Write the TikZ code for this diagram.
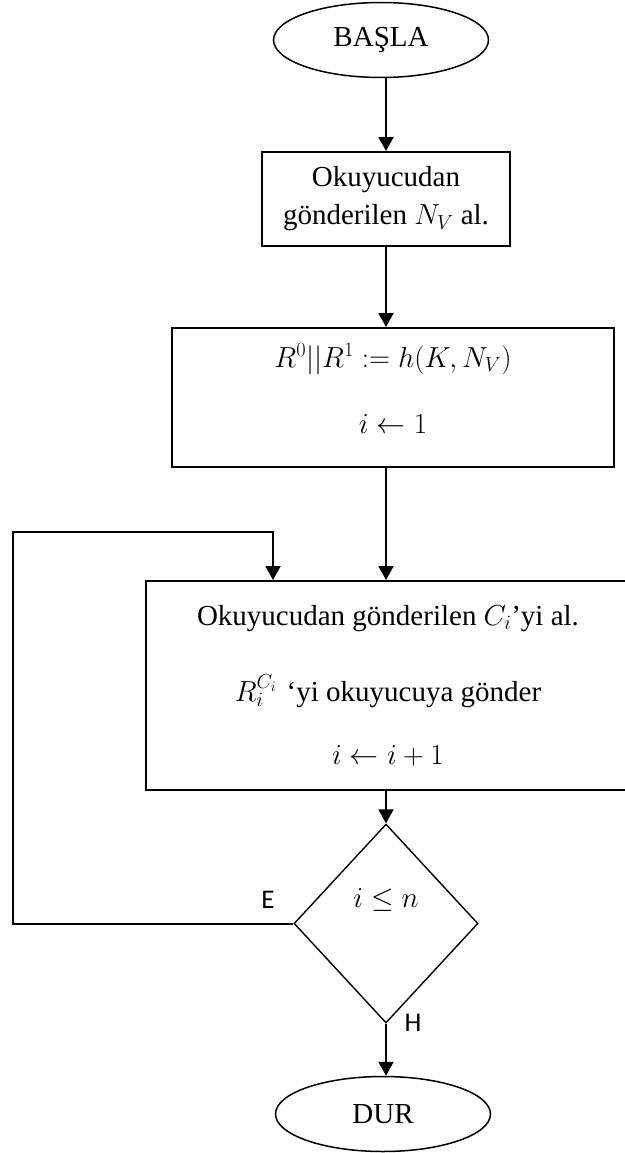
\RequirePackage{fix-cm}
\documentclass[tikz,border=0pt]{standalone}
\usepackage{fontspec}
\setmainfont{Liberation Serif}
\newfontfamily\lblfont{Carlito}
\usetikzlibrary{shapes.geometric,arrows.meta}

\begin{document}
\begin{tikzpicture}[x=1pt,y=-1pt,
  every node/.style={font=\fontsize{29}{38}\selectfont},
  terminal/.style={draw, ellipse, line width=1.5pt, minimum width=215pt, minimum height=75pt, inner sep=0pt},
  procbox/.style={draw, rectangle, line width=2pt, align=center, inner sep=0pt},
  decision/.style={draw, diamond, line width=1.4pt, minimum width=184pt, minimum height=199pt, inner sep=0pt},
  flow/.style={line width=2pt, -{Triangle[width=15pt,length=14pt]}},
  branch/.style={font=\lblfont\fontsize{27}{30}\selectfont, inner sep=0pt}]
\useasboundingbox (0,0) rectangle (624,1153);

% terminals
\node[terminal] (start) at (381,40) {BAŞLA};
\node[terminal] (stop) at (383,1114) {DUR};

% process boxes
\node[procbox, minimum width=248pt, minimum height=94pt] (box1) at (386,199)
  {Okuyucudan\\gönderilen $N_V$ al.};
\node[procbox, minimum width=442pt, minimum height=139pt] (box2) at (393,397.5)
  {$R^0||R^1 := h(K,N_V)$\\[28pt]$i \leftarrow 1$\\[-20pt]};
\node[procbox, minimum width=484pt, minimum height=209pt] (box3) at (388,685.5)
  {Okuyucudan gönderilen $C_i$’yi al.\\[38pt]$R_i^{C_i}$\hspace{10pt}‘yi okuyucuya gönder\\[25pt]$i \leftarrow i+1$};

% decision
\node[decision] (dec) at (386,923.5) {};
\node (cond) at (386,900) {$i \leq n$};
\node[branch] (yes) at (268,900) {E};
\node[branch] (no) at (413,1023) {H};

% loop corners
\coordinate (loopcorner) at (13,532);
\coordinate (loopdrop) at (273,532);

% connectors
\draw[flow] (box1.north |- start.south) -- (box1.north);
\draw[flow] (box1.south) -- (box1.south |- box2.north);
\draw[flow] (box2.south -| box1) -- (box3.north -| box1);
\draw[flow] (box3.south -| dec) -- (dec.north);
\draw[flow] (dec.south) -- (stop.north -| dec);
\draw[flow] (dec.west) -- (dec.west -| loopcorner) -- (loopcorner) -- (loopdrop) -- (loopdrop |- box3.north);
\end{tikzpicture}
\end{document}
